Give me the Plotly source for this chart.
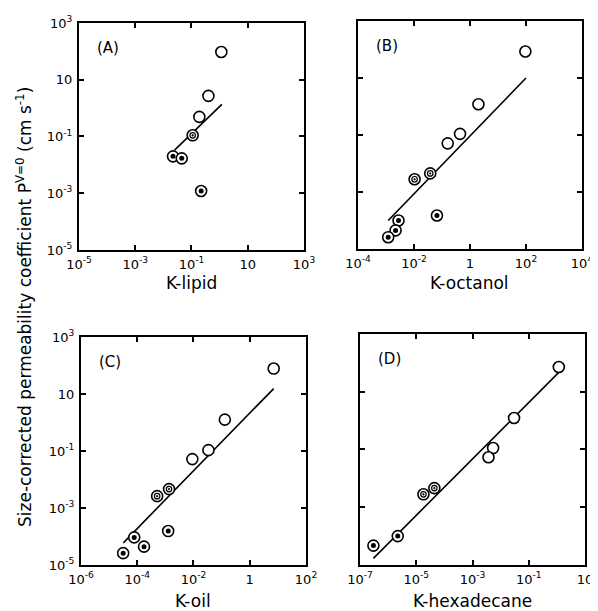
import plotly.graph_objects as go

# ---------------- data ----------------
# marker types: "o" open circle, "b" circle with small dot, "f" circle with filled centre
a_x = [1.15, 0.40, 0.19, 0.11, 0.022, 0.045, 0.22]
a_y = [95, 2.7, 0.49, 0.11, 0.020, 0.017, 0.0012]
a_t = ["o", "o", "o", "b", "f", "f", "f"]
a_line_x = [0.025, 1.2]
a_line_y = [0.033, 1.35]

b_x = [95, 2.0, 0.44, 0.16, 0.038, 0.0105, 0.066, 0.0028, 0.0022, 0.0012]
b_y = [85, 1.2, 0.11, 0.051, 0.0045, 0.0028, 0.00015, 0.0001, 0.000045, 0.000026]
b_t = ["o", "o", "o", "o", "b", "b", "f", "f", "f", "f"]
b_line_x = [0.0012, 100]
b_line_y = [0.0001, 10]

c_x = [7.1, 0.13, 0.034, 0.0091, 0.00135, 0.00051, 0.00126, 0.000078, 0.000174, 0.0000316]
c_y = [78, 1.26, 0.107, 0.052, 0.0046, 0.0026, 0.000155, 0.000093, 0.000044, 0.000026]
c_t = ["o", "o", "o", "o", "b", "b", "f", "f", "f", "f"]
c_line_x = [3.2e-5, 7.1]
c_line_y = [6e-5, 15.5]

d_x = [1.17, 0.030, 0.0054, 0.0037, 4.4e-5, 1.8e-5, 2.2e-6, 3.0e-7]
d_y = [72, 1.23, 0.112, 0.054, 0.0046, 0.0028, 0.0001, 0.000047]
d_t = ["o", "o", "o", "o", "b", "b", "f", "f"]
d_line_x = [3.0e-7, 1.17]
d_line_y = [1.7e-5, 47]

y_tickvals = [1e-5, 1e-3, 1e-1, 1e1, 1e3]
y_ticktext = ["10<sup>-5</sup>", "10<sup>-3</sup>", "10<sup>-1</sup>", "10", "10<sup>3</sup>"]

a_xtickvals = [1e-5, 1e-3, 1e-1, 1e1, 1e3]
a_xticktext = ["10<sup>-5</sup>", "10<sup>-3</sup>", "10<sup>-1</sup>", "10", "10<sup>3</sup>"]
b_xtickvals = [1e-4, 1e-2, 1, 1e2, 1e4]
b_xticktext = ["10<sup>-4</sup>", "10<sup>-2</sup>", "1", "10<sup>2</sup>", "10<sup>4</sup>"]
c_xtickvals = [1e-6, 1e-4, 1e-2, 1, 1e2]
c_xticktext = ["10<sup>-6</sup>", "10<sup>-4</sup>", "10<sup>-2</sup>", "1", "10<sup>2</sup>"]
d_xtickvals = [1e-7, 1e-5, 1e-3, 1e-1, 1e1]
d_xticktext = ["10<sup>-7</sup>", "10<sup>-5</sup>", "10<sup>-3</sup>", "10<sup>-1</sup>", "10"]

# the page places the figure 8 px in from the window's top-left corner
W, H = 590, 603
panels = [
    dict(name="(A)", title="K-lipid", x=a_x, y=a_y, t=a_t, lx=a_line_x, ly=a_line_y,
         xr=[-5, 3], tv=a_xtickvals, tt=a_xticktext,
         xd=[0.1203, 0.5017], yd=[0.5987, 0.9751], ty=0.544, ylab=True),
    dict(name="(B)", title="K-octanol", x=b_x, y=b_y, t=b_t, lx=b_line_x, ly=b_line_y,
         xr=[-4, 4], tv=b_xtickvals, tt=b_xticktext,
         xd=[0.5932, 0.9729], yd=[0.6003, 0.9784], ty=0.544, ylab=False),
    dict(name="(C)", title="K-oil", x=c_x, y=c_y, t=c_t, lx=c_line_x, ly=c_line_y,
         xr=[-6, 2], tv=c_xtickvals, tt=c_xticktext,
         xd=[0.1237, 0.5051], yd=[0.0763, 0.4544], ty=0.017, ylab=True),
    dict(name="(D)", title="K-hexadecane", x=d_x, y=d_y, t=d_t, lx=d_line_x, ly=d_line_y,
         xr=[-7, 1], tv=d_xtickvals, tt=d_xticktext,
         xd=[0.5966, 0.9780], yd=[0.0763, 0.4594], ty=0.017, ylab=False),
]

FONT = "DejaVu Sans"
fig = go.Figure()
annotations = []
layout = {}

for i, p in enumerate(panels):
    n = "" if i == 0 else str(i + 1)
    xa, ya = "x" + n, "y" + n
    # regression line
    fig.add_trace(go.Scatter(x=p["lx"], y=p["ly"], mode="lines", xaxis=xa, yaxis=ya,
                             line=dict(color="black", width=1.6), showlegend=False, hoverinfo="skip"))
    # outer circles
    fig.add_trace(go.Scatter(x=p["x"], y=p["y"], mode="markers", xaxis=xa, yaxis=ya,
                             marker=dict(symbol="circle", size=11, color="white",
                                         line=dict(color="black", width=1.6)),
                             showlegend=False))
    # inner markers
    bx = [xv for xv, tv in zip(p["x"], p["t"]) if tv == "b"]
    by = [yv for yv, tv in zip(p["y"], p["t"]) if tv == "b"]
    fx = [xv for xv, tv in zip(p["x"], p["t"]) if tv == "f"]
    fy = [yv for yv, tv in zip(p["y"], p["t"]) if tv == "f"]
    fig.add_trace(go.Scatter(x=bx, y=by, mode="markers", xaxis=xa, yaxis=ya,
                             marker=dict(symbol="circle-open-dot", size=5.5, color="black",
                                         line=dict(color="black", width=1.2)),
                             showlegend=False))
    fig.add_trace(go.Scatter(x=fx, y=fy, mode="markers", xaxis=xa, yaxis=ya,
                             marker=dict(symbol="circle", size=5, color="black"),
                             showlegend=False))

    common = dict(type="log", showline=True, linewidth=2, linecolor="black", mirror="ticks",
                  ticks="inside", ticklen=5, tickwidth=1.5, tickcolor="black",
                  showgrid=False, zeroline=False, automargin=False,
                  tickfont=dict(family=FONT, size=13, color="black"))
    layout["xaxis" + n] = dict(common, domain=p["xd"], anchor=ya, range=p["xr"],
                               tickvals=p["tv"], ticktext=p["tt"], ticklabelstandoff=1)
    layout["yaxis" + n] = dict(common, domain=p["yd"], anchor=xa, range=[-5, 3],
                               tickvals=y_tickvals, ticktext=y_ticktext if p["ylab"] else [""] * 5,
                               showticklabels=p["ylab"], ticklabelstandoff=2)
    # panel label
    annotations.append(dict(text=p["name"], xref=xa + " domain", yref=ya + " domain",
                            x=0.07, y=0.89, xanchor="left", yanchor="middle", showarrow=False,
                            font=dict(family=FONT, size=15, color="black")))
    # axis title
    annotations.append(dict(text=p["title"], xref="paper", yref="paper",
                            x=(p["xd"][0] + p["xd"][1]) / 2, y=p["ty"],
                            xanchor="center", yanchor="middle", showarrow=False,
                            font=dict(family=FONT, size=17, color="black")))

annotations.append(dict(text="Size-corrected permeability coefficient P<sup>V=0</sup> (cm s<sup>-1</sup>)",
                        xref="paper", yref="paper", x=0.027, y=0.504, textangle=-90,
                        xanchor="center", yanchor="middle", showarrow=False,
                        font=dict(family=FONT, size=17, color="black")))

fig.update_layout(width=W, height=H, margin=dict(l=0, r=0, t=0, b=0, autoexpand=False),
                  plot_bgcolor="white", paper_bgcolor="white",
                  annotations=annotations, **layout)

fig.write_html("out.html", config={"displayModeBar": False})
